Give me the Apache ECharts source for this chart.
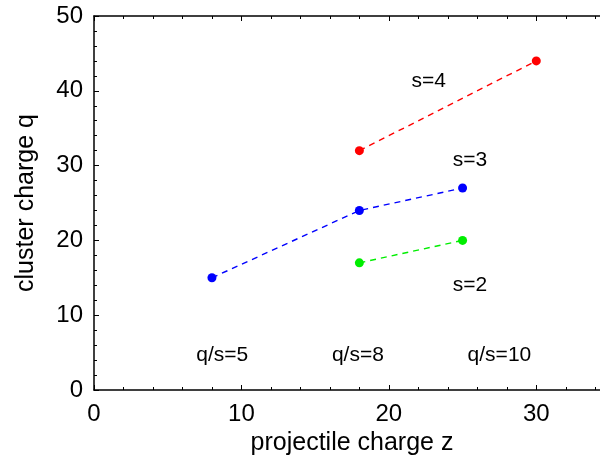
<!DOCTYPE html>
<html>
<head>
<meta charset="utf-8">
<script src="https://cdn.jsdelivr.net/npm/echarts@6/dist/echarts.min.js"></script>
<style>html,body{margin:0;padding:0;background:#fff;}#c{width:600px;height:462px;}</style>
</head>
<body>
<div id="c"></div>
<script>
// Data
const s4 = [[18, 32], [30, 44]];
const s3 = [[8, 15], [18, 24], [25, 27]];
const s2 = [[18, 17], [25, 20]];
const annotations = [
  [22.7, 41.3, 's=4'],
  [25.5, 30.7, 's=3'],
  [25.5, 14.0, 's=2'],
  [8.7, 4.7, 'q/s=5'],
  [17.9, 4.7, 'q/s=8'],
  [27.5, 4.7, 'q/s=10']
];
const xName = 'projectile charge z';
const yName = 'cluster charge q';

const font = 'Liberation Sans, Arial, sans-serif';
const axisCommon = {
  axisLine: { show: true, onZero: false, lineStyle: { color: '#000', width: 1.5 } },
  axisTick: { show: true, inside: true, length: 5, lineStyle: { color: '#000' } },
  minorTick: { show: true, splitNumber: 5, length: 3, lineStyle: { color: '#000' } },
  splitLine: { show: false },
  minorSplitLine: { show: false }
};

const chart = echarts.init(document.getElementById('c'), null, { renderer: 'canvas' });
function lineSeries(data, color) {
  return {
    type: 'line', data: data, symbol: 'circle', symbolSize: 9,
    itemStyle: { color: color },
    lineStyle: { color: color, type: [6, 5], width: 1.4 },
    animation: false
  };
}
chart.setOption({
  animation: false,
  grid: { left: 94, right: -10, top: 16, bottom: 72, containLabel: false, outerBoundsMode: 'none' },
  xAxis: [
    Object.assign({
      type: 'value', min: 0, max: 35, interval: 10, position: 'bottom',
      name: xName, nameLocation: 'middle', nameGap: 41,
      nameTextStyle: { fontFamily: font, fontSize: 25, color: '#000' },
      axisLabel: { fontFamily: font, fontSize: 24, color: '#000', margin: 12, showMaxLabel: false }
    }, axisCommon),
    Object.assign({
      type: 'value', min: 0, max: 35, interval: 10, position: 'top',
      axisLabel: { show: false }
    }, axisCommon)
  ],
  yAxis: [
    Object.assign({
      type: 'value', min: 0, max: 50, interval: 10, position: 'left',
      name: yName, nameLocation: 'middle', nameGap: 55,
      nameTextStyle: { fontFamily: font, fontSize: 25, color: '#000' },
      axisLabel: { fontFamily: font, fontSize: 24, color: '#000', margin: 11 }
    }, axisCommon),
    Object.assign({
      type: 'value', min: 0, max: 50, interval: 10, position: 'right',
      axisLabel: { show: false }
    }, axisCommon)
  ],
  series: [
    lineSeries(s4, '#ff0000'),
    lineSeries(s3, '#0000ff'),
    lineSeries(s2, '#00ee00'),
    {
      type: 'scatter', data: annotations, symbolSize: 0,
      itemStyle: { opacity: 1 },
      label: {
        show: true, position: 'inside',
        formatter: p => p.data[2],
        fontFamily: font, fontSize: 21, color: '#000', opacity: 1
      },
      silent: true, animation: false
    }
  ]
});
</script>
</body>
</html>
